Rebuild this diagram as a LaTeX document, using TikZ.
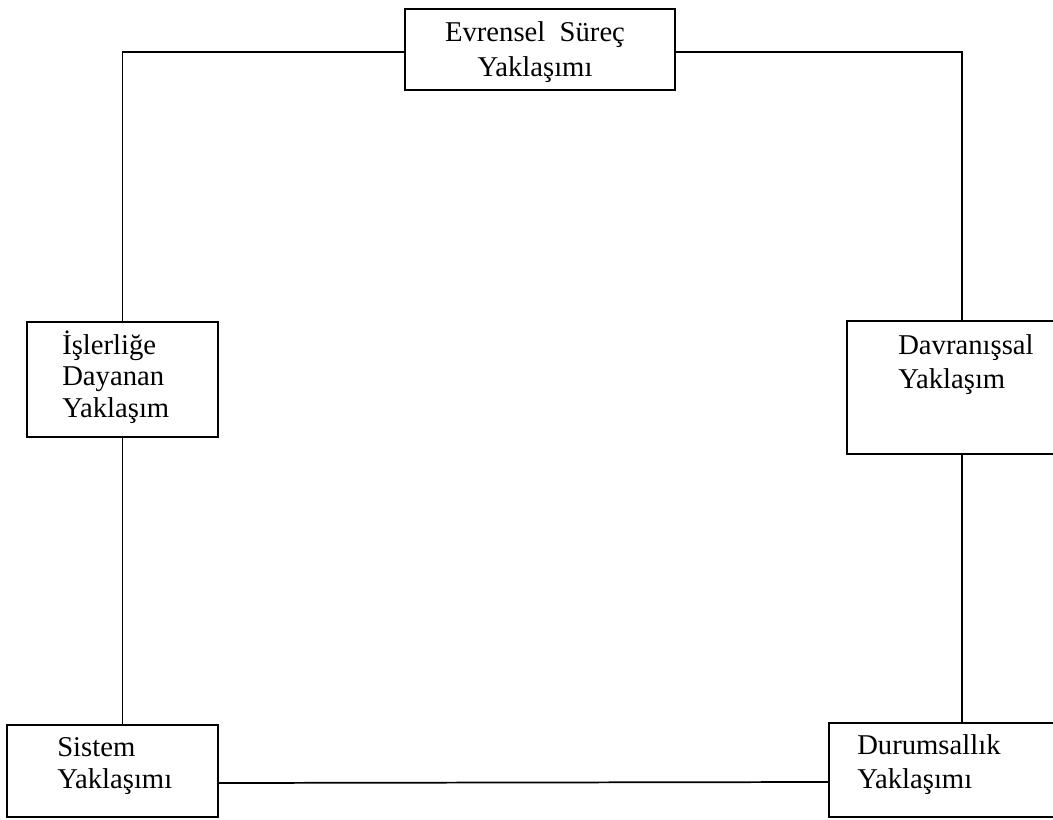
\documentclass[tikz,border=0pt]{standalone}
\usepackage{fontspec}
\setmainfont{Liberation Serif}
\begin{document}
\begin{tikzpicture}[x=0.75pt,y=-0.75pt,
  kutu/.style={draw,line width=1.5pt,inner sep=0pt},
  yazi/.style={inner sep=0pt,align=left,font=\fontsize{21.5}{25}\selectfont},
  bag/.style={line width=1.3pt}]
\useasboundingbox (0,0) rectangle (1053,820);

\node (evr) at (540,49.5) [kutu,minimum width=202.5pt,minimum height=60.75pt] {};
\node (evrT) at (535,77) [yazi,anchor=base,align=center,font=\fontsize{21.5}{26.25}\selectfont] {Evrensel\ \ Süreç\\Yaklaşımı};

\node (isl) at (122.5,379.5) [kutu,minimum width=143.25pt,minimum height=86.25pt] {};
\node (islT) at (62,417) [yazi,anchor=base west,font=\fontsize{21.5}{23.5}\selectfont] {İşlerliğe\\Dayanan\\Yaklaşım};

\node (dav) at (962,387.5) [kutu,minimum width=172.5pt,minimum height=99.75pt] {};
\node (davT) at (898,388) [yazi,anchor=base west] {Davranışsal\\Yaklaşım};

\node (sis) at (112.5,771) [kutu,minimum width=158.25pt,minimum height=69pt] {};
\node (sisT) at (57,788) [yazi,anchor=base west,font=\fontsize{21.5}{23.5}\selectfont] {Sistem\\Yaklaşımı};

\node (dur) at (962,770) [kutu,minimum width=199.5pt,minimum height=70.5pt] {};
\node (durT) at (857,788) [yazi,anchor=base west] {Durumsallık\\Yaklaşımı};

\draw[bag] ([yshift=-2pt]evr.west) -| (isl.north);
\draw[bag] ([yshift=-2pt]evr.east) -| (dav.north);
\draw[bag] (isl.south) -- (isl.south |- sis.north);
\draw[bag] (dav.south) -- (dur.north);
\draw[bag] ([yshift=-9pt]sis.east) -- ([yshift=-9pt]dur.west);
\end{tikzpicture}
\end{document}
